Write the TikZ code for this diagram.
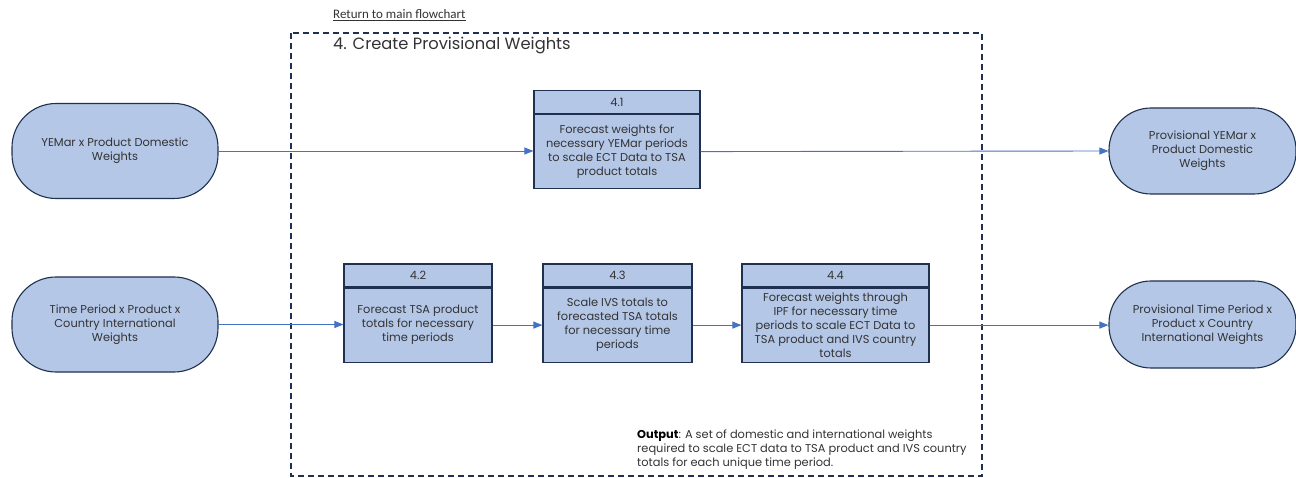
\documentclass[tikz,border=0pt]{standalone}
\usepackage{fontspec}
\setmainfont{Poppins}
\newfontfamily\linkfont{Carlito}
\usetikzlibrary{arrows.meta}
\definecolor{boxfill}{HTML}{B4C7E7}
\definecolor{boxline}{HTML}{1F3050}
\definecolor{flowline}{HTML}{4472C4}
\definecolor{txt}{HTML}{333333}
\tikzset{
  every node/.style={font=\fontsize{11.4}{14}\selectfont, text=txt, align=center, inner sep=0pt},
  terminal/.style={draw=boxline, line width=1.1pt, fill=boxfill, rounded corners=44pt,
    minimum width=206pt, minimum height=95pt},
  headbox/.style={draw=boxline, line width=1.1pt, fill=boxfill, minimum height=23pt},
  bodybox/.style={draw=boxline, line width=1.1pt, fill=boxfill, minimum height=74pt},
  flow/.style={draw=flowline, line width=0.9pt, -{Triangle[length=9pt,width=7pt]}},
  frame/.style={draw=boxline, line width=1.1pt, dash pattern=on 6pt off 4pt}
}
\begin{document}
\begin{tikzpicture}[x=1pt,y=-1pt]
\useasboundingbox (0,0) rectangle (1296,478);

% dashed frame of the step
\draw[frame] (291,33) rectangle (982,476);
\node[anchor=west, font=\linkfont\fontsize{13}{15}\selectfont] (link) at (333,15) {\underline{Return to main flowchart}};
\node[anchor=west, font=\fontsize{16.3}{19}\selectfont] (title) at (333,46) {4. Create Provisional Weights};

% inputs
\node[terminal] (in1) at (115,151) {YEMar x Product Domestic\\Weights};
\node[terminal] (in2) at (115,324.5) {Time Period x Product x\\Country International\\Weights};

% outputs
\node[terminal, rounded corners=42pt, minimum width=187pt, minimum height=86pt] (out1) at (1202.5,151) {Provisional YEMar x\\Product Domestic\\Weights};
\node[terminal, rounded corners=42pt, minimum width=187pt, minimum height=87pt] (out2) at (1202.5,324.5) {Provisional Time Period x\\Product x Country\\International Weights};

% process 4.1
\node[headbox, minimum width=166pt] (h41) at (617,102) {4.1};
\node[bodybox, minimum width=166pt, anchor=north] (b41) at (h41.south) {Forecast weights for\\necessary YEMar periods\\to scale ECT Data to TSA\\product totals};

% process 4.2
\node[headbox, minimum width=148pt] (h42) at (418,275.5) {4.2};
\node[bodybox, minimum width=148pt, anchor=north] (b42) at (h42.south) {Forecast TSA product\\totals for necessary\\time periods};

% process 4.3
\node[headbox, minimum width=149pt] (h43) at (617.5,275.5) {4.3};
\node[bodybox, minimum width=149pt, anchor=north] (b43) at (h43.south) {Scale IVS totals to\\forecasted TSA totals\\for necessary time\\periods};

% process 4.4
\node[headbox, minimum width=187pt] (h44) at (835.5,275.5) {4.4};
\node[bodybox, minimum width=187pt, anchor=north] (b44) at (h44.south) {Forecast weights through\\IPF for necessary time\\periods to scale ECT Data to\\TSA product and IVS country\\totals};

% note
\node[anchor=north west, align=left] (note) at (637,430) {\textbf{\textcolor{black}{Output}}: A set of domestic and international weights\\required to scale ECT data to TSA product and IVS country\\totals for each unique time period.};

% connectors
\draw[flow] (in1.east) -- (in1.east -| b41.west);
\draw[flow] (b41.east) -- (out1.west);
\draw[flow] (in2.east) -- (in2.east -| b42.west);
\draw[flow] (b42.east) -- (b42.east -| b43.west);
\draw[flow] (b43.east) -- (b43.east -| b44.west);
\draw[flow] (b44.east) -- (b44.east -| out2.west);
\end{tikzpicture}
\end{document}
